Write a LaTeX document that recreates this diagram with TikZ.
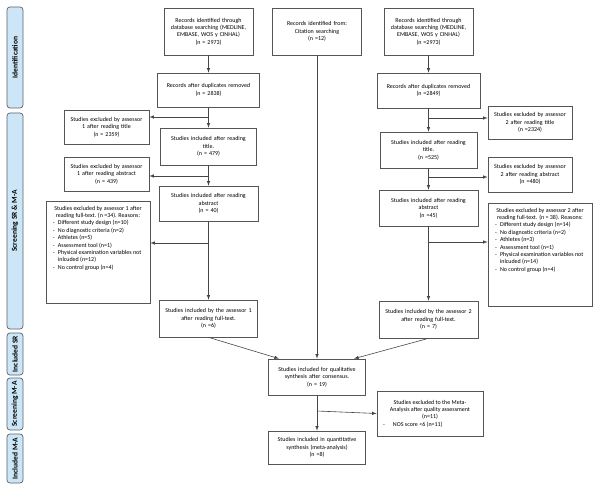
\documentclass[tikz,border=0pt]{standalone}
\usepackage{fontspec}
\setmainfont{Carlito}
\usepackage{xcolor}
\definecolor{stagefill}{RGB}{205,230,247}
\definecolor{stageline}{RGB}{88,98,108}
\definecolor{boxline}{RGB}{85,85,85}
\definecolor{arrowline}{RGB}{70,70,70}
\newcommand{\reason}[1]{\makebox[10pt][l]{\hspace{5pt}-}#1}

\begin{document}
\begin{tikzpicture}[x=1pt,y=-1pt]
			\tikzstyle{every node}+=[inner sep=2pt]
			\tikzstyle{box}=[draw=boxline, line width=0.7pt, align=center, font=\fontsize{6}{7.4}\selectfont]
			\tikzstyle{listbox}=[draw=boxline, line width=0.7pt, font=\fontsize{6}{7.4}\selectfont]
			\tikzstyle{stage}=[draw=stageline, fill=stagefill, line width=0.7pt, rounded corners=3pt, rotate=90, minimum height=16pt, inner sep=0pt, font=\fontsize{7.5}{8}\selectfont\bfseries]
			\tikzstyle{arrow}=[draw=arrowline, line width=0.6pt, -latex]
			\useasboundingbox (0,0) rectangle (600,489);
			
			\node[stage, minimum width=101pt] (s1) at (15,57.5) {Identification};
			\node[stage, minimum width=216pt] (s2) at (15,221) {Screening SR \& M-A};
			\node[stage, minimum width=42pt] (s3) at (15,354) {Included SR};
			\node[stage, minimum width=52pt] (s4) at (15,404) {Screening M-A};
			\node[stage, minimum width=49pt] (s5) at (15,458.5) {Included M-A};
			
			\node[box, text width=85pt, minimum height=47pt] (l1) at (208.5,31.5) {Records identified through\\ database searching (MEDLINE,\\ EMBASE, WOS y CINHAL)\\ (n = 2973)};
			\node[box, text width=98pt, minimum height=34pt] (l2) at (208.5,90) {Records after duplicates removed\\ (n = 2838)};
			\node[box, text width=92pt, minimum height=37pt] (l3) at (208.5,146.5) {Studies included after reading\\ title.\\ (n = 479)};
			\node[box, text width=95pt, minimum height=35pt] (l4) at (208.5,203.5) {Studies included after reading\\ abstract\\ (n = 40)};
			\node[box, text width=94pt, minimum height=37pt] (l5) at (208.5,318.5) {Studies included by the assessor 1\\ after reading full-text.\\ (n =6)};
			\draw[arrow] (l1.south) -- (l2.north);
			\draw[arrow] (l2.south) -- (l3.north);
			\draw[arrow] (l3.south) -- (l4.north);
			\draw[arrow] (l4.south) -- (l5.north);
			
			\node[box, text width=81pt, minimum height=34pt] (ex1) at (106.5,127) {Studies excluded by assessor\\ 1 after reading title\\ (n = 2359)};
			\node[box, text width=81pt, minimum height=34pt] (ex2) at (106.5,174) {Studies excluded by assessor\\ 1 after reading abstract\\ (n = 439)};
			\node[listbox] (ex3) at (98,252) {\parbox[c][98pt][t]{100pt}{\vspace*{3pt}\centering Studies excluded by assessor 1 after\\ reading full-text. (n =34). Reasons:\par\raggedright
				\reason{Different study design (n=10)}\\
				\reason{No diagnostic criteria (n=2)}\\
				\reason{Athletes (n=5)}\\
				\reason{Assessment tool (n=1)}\\
				\reason{Physical examination variables not}\\
				\hspace*{10pt}inlcuded (n=12)\\
				\reason{No control group (n=4)}}};
			\coordinate (b1) at (208.5,117);
			\coordinate (b2) at (208.5,176);
			\coordinate (b3) at (208.5,243);
			\draw[arrow] (b1) -- (b1 -| ex1.east);
			\draw[arrow] (b2) -- (b2 -| ex2.east);
			\draw[arrow] (b3) -- (b3 -| ex3.east);
			
			\node[box, text width=85pt, minimum height=47pt] (m1) at (317,31.5) {Records identified from:\\ Citation searching\\ (n =12)};
			\node[box, text width=93pt, minimum height=36pt] (c1) at (317,377) {Studies included for qualitative\\ synthesis after consensus.\\ (n = 19)};
			\node[box, text width=93pt, minimum height=33pt] (c2) at (317,447.5) {Studies included in quantitative\\ synthesis (meta-analysis)\\ (n =8)};
			\node[listbox, minimum height=45pt] (ex4) at (430,413.5) {\parbox{102pt}{\centering Studies excluded to the Meta-\\ Analysis after quality assessment\\ (n=11)\par\raggedright
				\makebox[14pt][l]{\hspace{4pt}-}NOS score <6 (n=11)}};
			\draw[arrow] (m1.south) -- (c1.north);
			\draw[arrow] (l5.south) -- ([xshift=-38pt]c1.north);
			\draw[arrow] (c1.south) -- (c2.north);
			\coordinate (b7) at (317,411);
			\draw[arrow] (b7) -- (ex4.west);
			
			\node[box, text width=85pt, minimum height=47pt] (r1) at (428.5,31.5) {Records identified through\\ database searching (MEDLINE,\\ EMBASE, WOS y CINHAL)\\ (n =2973)};
			\node[box, text width=99pt, minimum height=35pt] (r2) at (428.5,90.5) {Records after duplicates removed\\ (n =2849)};
			\node[box, text width=93pt, minimum height=36pt] (r3) at (428.5,150) {Studies included after reading\\ title.\\ (n =525)};
			\node[box, text width=95pt, minimum height=36pt] (r4) at (428.5,208) {Studies included after reading\\ abstract\\ (n =45)};
			\node[box, text width=95pt, minimum height=37pt] (r5) at (428.5,319.5) {Studies included by the assessor 2\\ after reading full-text.\\ (n = 7)};
			\draw[arrow] (r1.south) -- (r2.north);
			\draw[arrow] (r2.south) -- (r3.north);
			\draw[arrow] (r3.south) -- (r4.north);
			\draw[arrow] (r4.south) -- (r5.north);
			\draw[arrow] (r5.south) -- ([xshift=37pt]c1.north);
			
			\node[box, text width=80pt, minimum height=33pt] (re1) at (530,122.5) {Studies excluded by assessor\\ 2 after reading title\\ (n =2324)};
			\node[box, text width=80pt, minimum height=35pt] (re2) at (530,174.5) {Studies excluded by assessor\\ 2 after reading abstract\\ (n =480)};
			\node[listbox] (re3) at (540,254.5) {\parbox[c][99pt][t]{100pt}{\vspace*{3pt}\centering Studies excluded by assessor 2 after\\ reading full-text. (n = 38). Reasons:\par\raggedright
				\reason{Different study design (n=14)}\\
				\reason{No diagnostic criteria (n=2)}\\
				\reason{Athletes (n=3)}\\
				\reason{Assessment tool (n=1)}\\
				\reason{Physical examination variables not}\\
				\hspace*{10pt}inlcuded (n=14)\\
				\reason{No control group (n=4)}}};
			\coordinate (b4) at (428.5,118);
			\coordinate (b5) at (428.5,177);
			\coordinate (b6) at (428.5,242);
			\draw[arrow] (b4) -- (b4 -| re1.west);
			\draw[arrow] (b5) -- (b5 -| re2.west);
			\draw[arrow] (b6) -- (b6 -| re3.west);
		\end{tikzpicture}
\end{document}
